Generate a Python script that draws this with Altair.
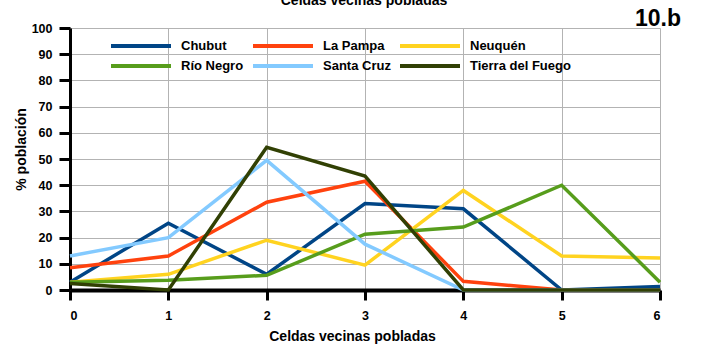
import altair as alt
import pandas as pd

# Number of populated neighbouring cells (x axis)
vecinas = [0, 1, 2, 3, 4, 5, 6]

# % of population per province for each neighbour count
chubut = [3, 25.5, 6, 33, 31, 0, 1.3]
la_pampa = [8.5, 13, 33.5, 41.5, 3.3, 0, 0]
neuquen = [3, 6, 19, 9.5, 38, 13, 12.2]
rio_negro = [3, 3.7, 5.6, 21.3, 24, 40, 3]
santa_cruz = [13, 20, 49.5, 17.5, 0, 0, 0]
tierra_fuego = [2.5, 0, 54.5, 43.5, 0, 0, 0]

provincias = ["Chubut", "La Pampa", "Neuquén", "Río Negro", "Santa Cruz", "Tierra del Fuego"]
series = [chubut, la_pampa, neuquen, rio_negro, santa_cruz, tierra_fuego]
colores = ["#004586", "#ff420e", "#ffd320", "#579d1c", "#83caff", "#314004"]

rows = []
for i, (nombre, vals) in enumerate(zip(provincias, series)):
    for x, v in zip(vecinas, vals):
        rows.append({"vecinas": x, "poblacion": v, "provincia": nombre, "orden": i})
df = pd.DataFrame(rows)

FONT = "Liberation Sans"

lines = alt.Chart(df).mark_line(strokeWidth=3.5).encode(
    x=alt.X(
        "vecinas:Q",
        scale=alt.Scale(domain=[0, 6], nice=False),
        axis=alt.Axis(
            values=vecinas, format="d", title="Celdas vecinas pobladas",
            titleX=282, titleY=50, titleBaseline="alphabetic",
            tickSize=10, tickWidth=3, tickColor="black",
            domainColor="black", domainWidth=4,
            labelPadding=9, gridColor="#b3b3b3", gridWidth=1,
        ),
    ),
    y=alt.Y(
        "poblacion:Q",
        scale=alt.Scale(domain=[0, 100], nice=False),
        axis=alt.Axis(
            values=list(range(0, 101, 10)), title="% población",
            titleX=-49, titleY=121, titleBaseline="middle", titleAlign="center",
            tickSize=11, tickWidth=3, tickColor="black",
            domainColor="black", domainWidth=3,
            labelPadding=7, gridColor="#b3b3b3", gridWidth=1,
        ),
    ),
    color=alt.Color(
        "provincia:N",
        scale=alt.Scale(domain=provincias, range=colores),
        legend=alt.Legend(
            title=None, orient="none", legendX=39, legendY=6, direction="horizontal",
            columns=3, symbolType="M-1,0H5", symbolSize=400,
            symbolStrokeWidth=4, labelOffset=48, columnPadding=1, rowPadding=-3,
            labelFont=FONT, labelFontSize=13, labelFontWeight="bold",
            labelColor="black",
        ),
    ),
    order="orden:Q",
    detail="provincia:N",
)

top_title = alt.Chart(pd.DataFrame({"t": ["Celdas vecinas pobladas"]})).mark_text(
    font=FONT, fontSize=14, fontWeight="bold", align="center", baseline="alphabetic",
    color="black",
).encode(text="t:N", x=alt.value(294), y=alt.value(-23))

tag = alt.Chart(pd.DataFrame({"t": ["10.b"]})).mark_text(
    font=FONT, fontSize=23, fontWeight="bold", align="right", baseline="alphabetic",
    color="black",
).encode(text="t:N", x=alt.value(611), y=alt.value(-2))

chart = alt.layer(lines, top_title, tag).properties(
    width=590,
    height=262,
    autosize=alt.AutoSizeParams(type="none"),
    padding={"left": 70, "top": 28, "right": 42, "bottom": 57},
).configure_view(stroke=None).configure_axis(
    labelFont=FONT, labelFontSize=12.5, labelFontWeight="bold", labelColor="black",
    titleFont=FONT, titleFontSize=14, titleFontWeight="bold", titleColor="black",
)

chart.save("out.html", embed_options={"renderer": "svg", "actions": False})
